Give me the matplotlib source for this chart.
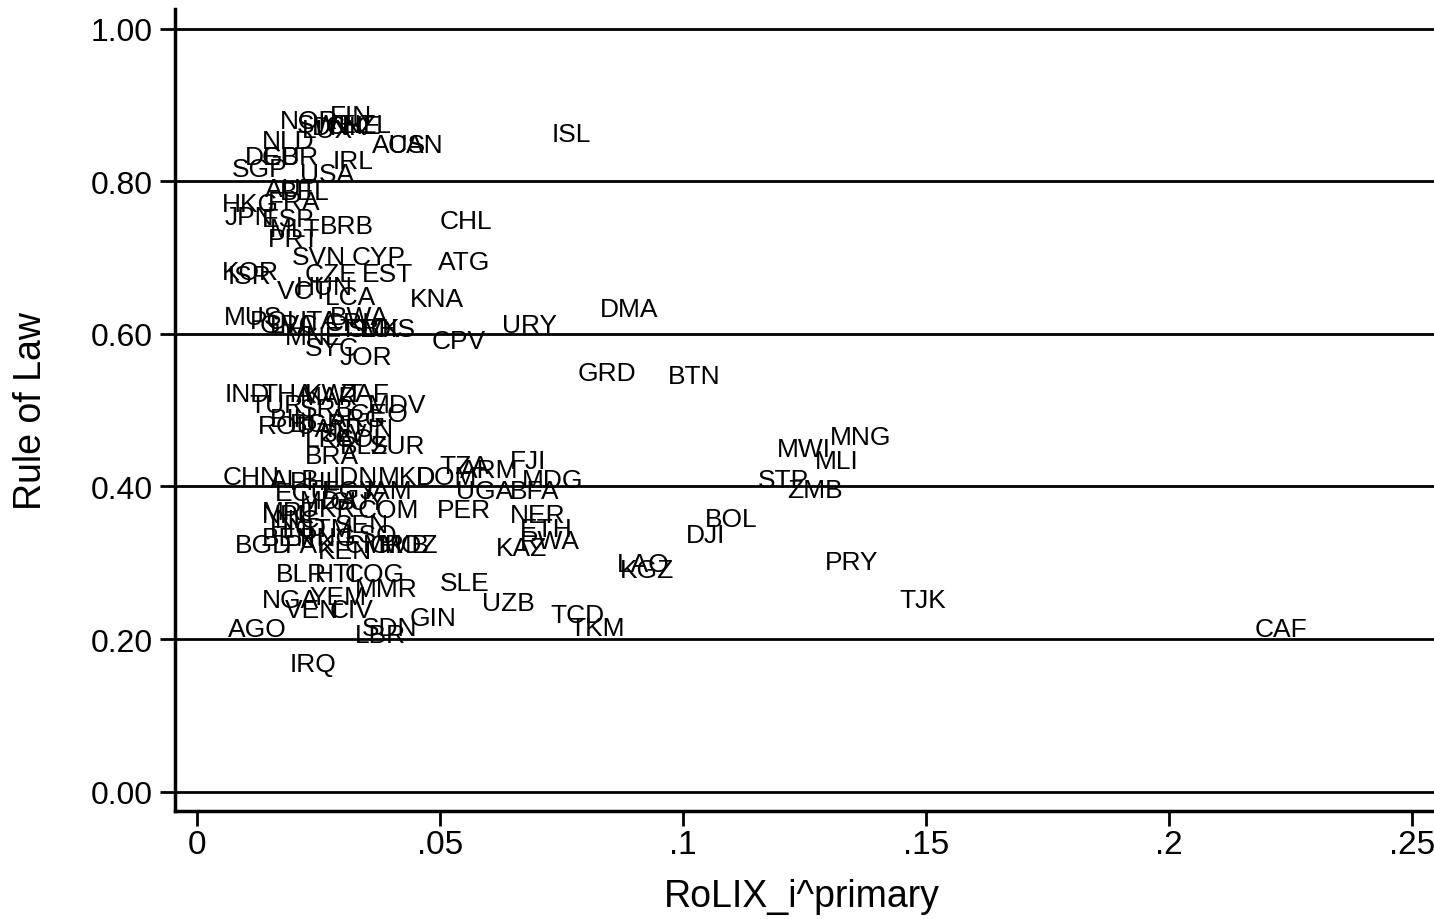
import matplotlib
matplotlib.use("Agg")
from matplotlib import pyplot as plt
from matplotlib.ticker import FixedLocator, FixedFormatter

# country codes, RoLIX primary share and rule of law score
codes = ["FIN", "NOR", "SWE", "DNK", "CHE", "NZL", "LUX", "AUS", "CAN", "NLD",
         "DEU", "GBR", "IRL", "SGP", "USA", "AUT", "BEL", "HKG", "FRA", "JPN",
         "ISL", "ESP", "BRB", "PRT", "CHL", "MLT", "SVN", "CYP", "ATG", "KOR",
         "ISR", "CZE", "EST", "VCT", "HUN", "LCA", "KNA", "DMA", "MUS", "POL",
         "LVA", "ITA", "CRI", "SVK", "BWA", "GRC", "MNE", "TTO", "BHS", "URY",
         "CPV", "SYC", "JOR", "GRD", "BTN", "IND", "THA", "KWT", "ZAF", "TUR",
         "MDV", "SRB", "ROU", "BGR", "ARG", "TUN", "LKA", "COL", "SUR", "BRA",
         "TZA", "FJI", "ARM", "CHN", "ALB", "PHL", "IDN", "MKD", "DOM", "MDG",
         "UGA", "BFA", "ECU", "JAM", "EGY", "NPL", "MRT", "UKR", "COM", "PER",
         "NER", "ETH", "RWA", "KAZ", "BOL", "DJI", "HND", "GTM", "SEN", "BGD",
         "PAK", "KEN", "CMR", "GMB", "BLR", "HTI", "COG", "MMR", "SLE", "NGA",
         "YEM", "VEN", "CIV", "UZB", "TCD", "TKM", "GIN", "SDN", "LBR", "AGO",
         "IRQ", "LAO", "KGZ", "MWI", "MNG", "MLI", "STP", "ZMB", "PRY", "TJK",
         "CAF", "MDA", "GUY", "BEN", "PNG", "NIC", "LSO", "MOZ", "MAR", "PAN",
         "SLV", "BIH", "GEO", "BLZ"]

rolix = [0.0267, 0.0165, 0.0200, 0.0230, 0.0259, 0.0292, 0.0210, 0.0354, 0.0387, 0.0128,
         0.0093, 0.0128, 0.0274, 0.0066, 0.0206, 0.0134, 0.0165, 0.0045, 0.0140, 0.0051,
         0.0724, 0.0128, 0.0247, 0.0140, 0.0494, 0.0144, 0.0189, 0.0313, 0.0490, 0.0045,
         0.0058, 0.0216, 0.0333, 0.0160, 0.0198, 0.0257, 0.0432, 0.0823, 0.0049, 0.0103,
         0.0144, 0.0206, 0.0257, 0.0305, 0.0267, 0.0123, 0.0175, 0.0288, 0.0333, 0.0623,
         0.0477, 0.0216, 0.0288, 0.0778, 0.0963, 0.0051, 0.0128, 0.0216, 0.0288, 0.0103,
         0.0346, 0.0206, 0.0119, 0.0185, 0.0267, 0.0288, 0.0216, 0.0278, 0.0350, 0.0216,
         0.0494, 0.0638, 0.0535, 0.0047, 0.0144, 0.0185, 0.0274, 0.0366, 0.0444, 0.0663,
         0.0527, 0.0638, 0.0154, 0.0329, 0.0251, 0.0128, 0.0128, 0.0206, 0.0325, 0.0488,
         0.0638, 0.0658, 0.0658, 0.0609, 0.1039, 0.1000, 0.0144, 0.0195, 0.0278, 0.0072,
         0.0175, 0.0243, 0.0298, 0.0350, 0.0156, 0.0237, 0.0298, 0.0319, 0.0494, 0.0128,
         0.0226, 0.0175, 0.0267, 0.0580, 0.0722, 0.0761, 0.0432, 0.0333, 0.0319, 0.0058,
         0.0185, 0.0858, 0.0864, 0.1187, 0.1296, 0.1265, 0.1148, 0.1208, 0.1286, 0.1440,
         0.2171, 0.0206, 0.0267, 0.0128, 0.0206, 0.0154, 0.0298, 0.0370, 0.0206, 0.0206,
         0.0247, 0.0144, 0.0308, 0.0288]

rule = [0.886, 0.879, 0.874, 0.871, 0.873, 0.874, 0.867, 0.848, 0.848, 0.853,
        0.832, 0.832, 0.827, 0.816, 0.810, 0.790, 0.786, 0.770, 0.773, 0.753,
        0.862, 0.751, 0.741, 0.724, 0.748, 0.738, 0.701, 0.701, 0.694, 0.681,
        0.676, 0.678, 0.678, 0.656, 0.661, 0.648, 0.646, 0.633, 0.622, 0.617,
        0.612, 0.617, 0.614, 0.606, 0.622, 0.612, 0.596, 0.606, 0.606, 0.612,
        0.591, 0.581, 0.570, 0.549, 0.545, 0.521, 0.521, 0.521, 0.521, 0.507,
        0.507, 0.501, 0.479, 0.482, 0.488, 0.475, 0.462, 0.462, 0.453, 0.440,
        0.427, 0.434, 0.421, 0.413, 0.409, 0.406, 0.413, 0.413, 0.413, 0.408,
        0.394, 0.394, 0.391, 0.394, 0.394, 0.362, 0.366, 0.370, 0.369, 0.369,
        0.362, 0.344, 0.329, 0.320, 0.357, 0.337, 0.346, 0.344, 0.350, 0.323,
        0.323, 0.315, 0.323, 0.323, 0.285, 0.285, 0.285, 0.266, 0.274, 0.251,
        0.255, 0.238, 0.238, 0.247, 0.232, 0.215, 0.228, 0.215, 0.205, 0.213,
        0.167, 0.299, 0.290, 0.449, 0.465, 0.434, 0.408, 0.395, 0.301, 0.251,
        0.213, 0.381, 0.380, 0.332, 0.332, 0.356, 0.336, 0.323, 0.517, 0.475,
        0.469, 0.488, 0.495, 0.453]

xticks = [0, 0.05, 0.1, 0.15, 0.2, 0.25]
xtick_labels = ["0", ".05", ".1", ".15", ".2", ".25"]
yticks = [0.0, 0.2, 0.4, 0.6, 0.8, 1.0]

plt.rcParams['font.family'] = ['Liberation Sans', 'DejaVu Sans']

fig = plt.figure(figsize=(14.34, 9.2), dpi=100)
ax = fig.add_axes([0.122, 0.117, 0.878, 0.872])

# marker labels only, placed right of each (invisible) point
for c, x, y in zip(codes, rolix, rule):
    ax.annotate(c, (x, y), xytext=(2, 0), textcoords="offset points",
                ha="left", va="center", fontsize=19, color="black")

ax.set_xlim(-0.0045, 0.2545)
ax.set_ylim(-0.026, 1.026)

ax.xaxis.set_major_locator(FixedLocator(xticks))
ax.xaxis.set_major_formatter(FixedFormatter(xtick_labels))
ax.set_yticks(yticks)
ax.set_yticklabels(["%.2f" % v for v in yticks])

ax.grid(True, axis="y", color="black", linewidth=2)
ax.set_axisbelow(True)

for s in ["top", "right"]:
    ax.spines[s].set_visible(False)
for s in ["left", "bottom"]:
    ax.spines[s].set_linewidth(2.5)
    ax.spines[s].set_color("black")

ax.tick_params(axis="y", direction="out", length=11, width=2, pad=5, labelsize=23)
ax.tick_params(axis="x", direction="out", length=11, width=2, pad=2, labelsize=24)

ax.set_ylabel("Rule of Law", fontsize=27)
ax.yaxis.set_label_coords(-0.100, 0.5)
ax.set_xlabel("RoLIX_i^primary", fontsize=27)
ax.xaxis.set_label_coords(0.498, -0.083)

fig.savefig("out.png", dpi=100, facecolor="white")
